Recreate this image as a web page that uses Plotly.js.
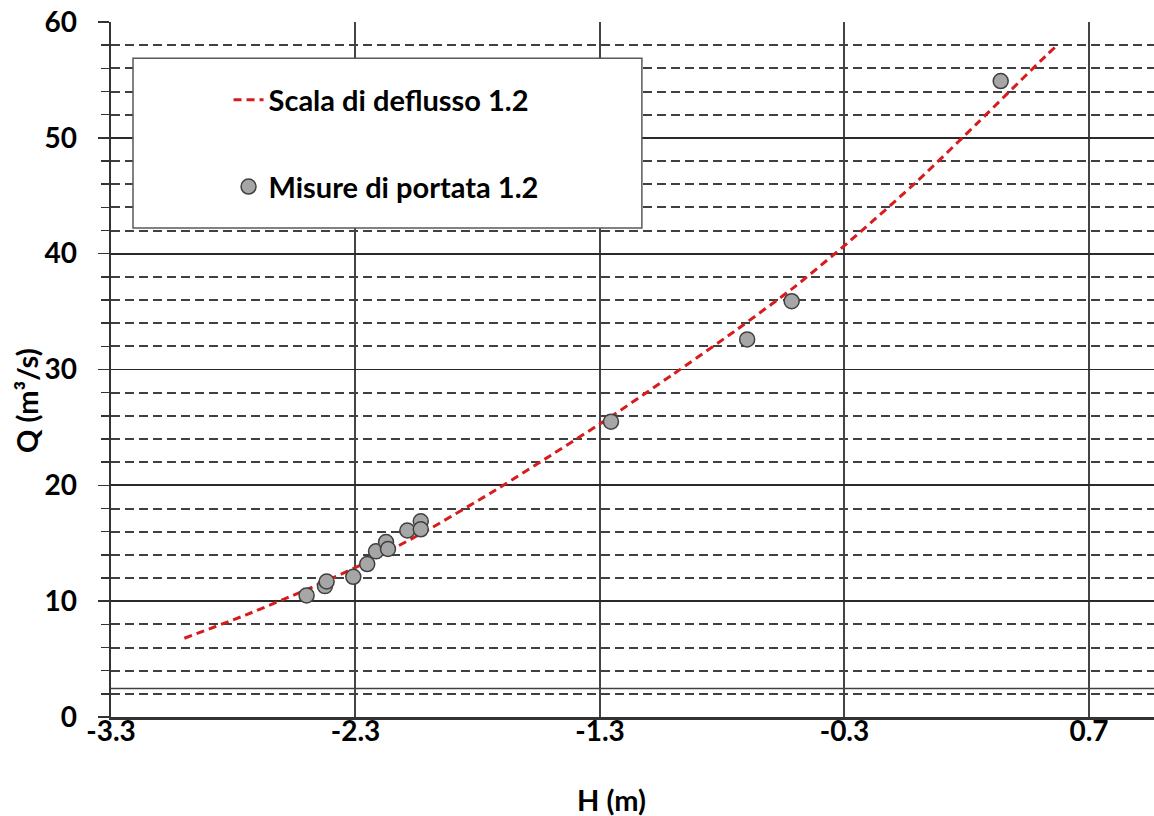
<!DOCTYPE html>
<html>
<head>
<meta charset="utf-8">
<script src="https://cdn.plot.ly/plotly-3.0.1.min.js"></script>
<style>
  html, body { margin: 0; padding: 0; background: #fff; }
  #chart { width: 1154px; height: 816px; }
</style>
</head>
<body>
<div id="chart"></div>
<script>
// Rating curve
var curveH = [-3.0, -2.75, -2.5, -2.25, -2.0, -1.75, -1.5, -1.25, -1.0, -0.75, -0.5, -0.25, 0.0, 0.25, 0.5, 0.56];
var curveQ = [6.8, 8.8, 11.0, 13.4, 16.2, 19.3, 22.6, 26.0, 29.6, 33.3, 37.2, 41.6, 46.3, 51.4, 56.6, 57.8];

var measH = [-2.50, -2.425, -2.418, -2.309, -2.252, -2.216, -2.175, -2.167, -2.088, -2.033, -2.033, -1.255, -0.698, -0.516, 0.339];
var measQ = [10.5, 11.3, 11.7, 12.1, 13.2, 14.3, 15.1, 14.5, 16.1, 16.9, 16.2, 25.5, 32.6, 35.9, 54.9];

var xTicks = [-3.3, -2.3, -1.3, -0.3, 0.7];
var xTickText = ['-3.3', '-2.3', '-1.3', '-0.3', '0.7'];
var yTicks = [0, 10, 20, 30, 40, 50, 60];
var yMinorTicks = [2, 4, 6, 8, 12, 14, 16, 18, 22, 24, 26, 28, 32, 34, 36, 38, 42, 44, 46, 48, 52, 54, 56, 58];

var seriesNames = ['Scala di deflusso 1.2', 'Misure di portata 1.2'];
var refLineQ = 2.45;

var FONT = 'Lato, "Open Sans", "DejaVu Sans", sans-serif';

var traces = [
  {
    x: curveH, y: curveQ, type: 'scatter', mode: 'lines',
    name: seriesNames[0], legend: 'legend',
    line: { color: '#d81b1b', width: 3, dash: '8px,5px', shape: 'spline', smoothing: 0.6 },
    hoverinfo: 'x+y'
  },
  {
    x: measH, y: measQ, type: 'scatter', mode: 'markers',
    name: seriesNames[1], legend: 'legend2',
    marker: { size: 15, color: '#a6a6a6', line: { color: '#404040', width: 1.5 } },
    hoverinfo: 'x+y'
  }
];

var layout = {
  width: 1154, height: 816,
  margin: { l: 111, r: 0, t: 22, b: 99 },
  paper_bgcolor: '#ffffff', plot_bgcolor: '#ffffff',
  font: { family: FONT, color: '#000000' },
  showlegend: true,
  xaxis: {
    range: [-3.3, 0.966],
    tickmode: 'array', tickvals: xTicks, ticktext: xTickText,
    showgrid: true, gridcolor: '#444444', gridwidth: 2,
    zeroline: false,
    showline: true, linecolor: '#333333', linewidth: 2.5,
    ticks: '',
    ticklabelstandoff: -12,
    tickfont: { family: FONT, size: 28, weight: 700, color: '#000' },
    fixedrange: true
  },
  yaxis: {
    range: [0, 60],
    tickmode: 'array', tickvals: yTicks,
    showgrid: true, gridcolor: '#2a2a2a', gridwidth: 1.8,
    zeroline: false,
    showline: true, linecolor: '#333333', linewidth: 2.5,
    ticks: 'outside', ticklen: 11, tickwidth: 1.5, tickcolor: '#333333',
    ticklabelstandoff: 15,
    minor: {
      tickmode: 'array', tickvals: yMinorTicks,
      showgrid: true, gridcolor: '#404040', gridwidth: 2, griddash: '9px,5px',
      ticks: 'outside', ticklen: 8, tickwidth: 1.5, tickcolor: '#333333'
    },
    tickfont: { family: FONT, size: 28, weight: 700, color: '#000' },
    fixedrange: true
  },
  legend: {
    x: 0.1127, y: 0.888, xanchor: 'left', yanchor: 'middle',
    bgcolor: 'rgba(0,0,0,0)', borderwidth: 0,
    font: { family: FONT, size: 29, weight: 700, color: '#000' }
  },
  legend2: {
    x: 0.1127, y: 0.763, xanchor: 'left', yanchor: 'middle',
    bgcolor: 'rgba(0,0,0,0)', borderwidth: 0,
    font: { family: FONT, size: 29, weight: 700, color: '#000' }
  },
  shapes: [
    {
      type: 'line', xref: 'paper', yref: 'y',
      x0: 0, x1: 1, y0: refLineQ, y1: refLineQ,
      line: { color: '#404040', width: 1.5 }, layer: 'below'
    },
    {
      type: 'rect', xref: 'paper', yref: 'paper',
      x0: 0.0211, x1: 0.509, y0: 0.7036, y1: 0.948,
      fillcolor: '#ffffff', line: { color: '#595959', width: 1.5 }, layer: 'above'
    }
  ],
  annotations: [
    {
      text: 'Q (m³/s)', xref: 'paper', yref: 'paper',
      x: -0.0815, y: 0.456, xanchor: 'center', yanchor: 'middle',
      textangle: -90, showarrow: false,
      font: { family: FONT, size: 29, weight: 700, color: '#000' }
    },
    {
      text: 'H (m)', xref: 'paper', yref: 'paper',
      x: 0.4795, y: -0.119, xanchor: 'center', yanchor: 'middle',
      showarrow: false,
      font: { family: FONT, size: 29, weight: 700, color: '#000' }
    }
  ]
};

Plotly.newPlot('chart', traces, layout, { displayModeBar: false, staticPlot: true });
</script>
</body>
</html>
